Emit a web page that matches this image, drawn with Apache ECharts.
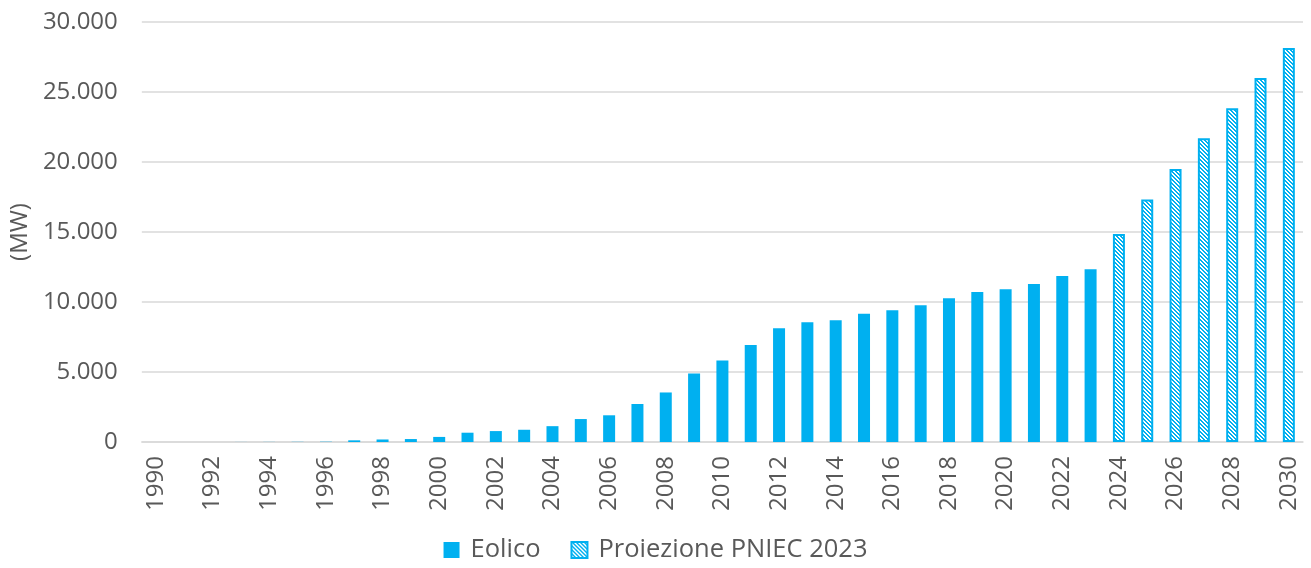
<!DOCTYPE html>
<html>
<head>
<meta charset="utf-8">
<script src="https://cdn.jsdelivr.net/npm/echarts@6/dist/echarts.min.js"></script>
<style>
html,body{margin:0;padding:0;background:#fff;}
#c{width:1311px;height:568px;}
</style>
</head>
<body>
<div id="c"></div>
<script>
const years = [];
for (let y = 1990; y <= 2030; y++) years.push(String(y));

// Installed wind capacity (MW), 1990-2023
const eolico = [2, 2, 2, 4, 7, 12, 20, 119, 180, 211, 363, 664, 780, 874, 1131, 1639, 1908, 2714, 3538, 4898, 5814, 6936, 8119, 8561, 8703, 9162, 9410, 9766, 10265, 10715, 10907, 11290, 11858, 12336];
// PNIEC 2023 projection (MW), 2024-2030
const pniec = [14860, 17330, 19500, 21690, 23840, 26000, 28140];

const seriesNames = ['Eolico', 'Proiezione PNIEC 2023'];

const eolicoData = years.map((y, i) => i < eolico.length ? eolico[i] : '-');
const pniecData = years.map((y, i) => i >= eolico.length ? pniec[i - eolico.length] : '-');

const BLUE = '#00B0F0';
function makePattern() {
  const c = document.createElement('canvas');
  c.width = 4; c.height = 4;
  const ctx = c.getContext('2d');
  ctx.fillStyle = '#ffffff';
  ctx.fillRect(0, 0, 4, 4);
  ctx.fillStyle = BLUE;
  for (let i = 0; i < 4; i++) {
    ctx.fillRect(i, i, 2, 1);
  }
  ctx.fillRect(0, 3, 1, 1);
  return c;
}
const pat = { image: makePattern(), repeat: 'repeat' };

const FONT = 'Open Sans';
const TXT = '#595959';

const chart = echarts.init(document.getElementById('c'), null, { renderer: 'canvas' });
chart.setOption({
  animation: false,
  textStyle: { fontFamily: FONT },
  grid: { left: 141, right: 8, top: 22, bottom: 126 },
  legend: {
    bottom: 0,
    left: 'center',
    itemWidth: 16,
    itemHeight: 16,
    itemGap: 30,
    textStyle: { fontFamily: FONT, fontSize: 25.5, color: TXT, padding: [0, 0, 0, 6] },
    data: [
      { name: seriesNames[0], icon: 'rect' },
      { name: seriesNames[1], icon: 'rect' }
    ]
  },
  xAxis: {
    type: 'category',
    data: years,
    axisLine: { lineStyle: { color: '#d9d9d9', width: 1.5 } },
    axisTick: { show: false },
    axisLabel: {
      interval: 1,
      rotate: 90,
      fontFamily: FONT,
      fontSize: 24,
      color: TXT,
      margin: 14
    }
  },
  yAxis: {
    type: 'value',
    min: 0,
    max: 30000,
    interval: 5000,
    name: '(MW)',
    nameLocation: 'middle',
    nameRotate: 90,
    nameGap: 106,
    nameTextStyle: { fontFamily: FONT, fontSize: 24, color: TXT },
    axisLine: { show: false },
    axisTick: { show: false },
    splitLine: { lineStyle: { color: '#d9d9d9', width: 1.5 } },
    axisLabel: {
      fontFamily: FONT,
      fontSize: 24,
      color: TXT,
      margin: 24,
      formatter: v => String(v).replace(/\B(?=(\d{3})+(?!\d))/g, '.')
    }
  },
  series: [
    {
      name: seriesNames[0],
      type: 'bar',
      data: eolicoData,
      barWidth: 12,
      barGap: '-100%',
      itemStyle: { color: BLUE }
    },
    {
      name: seriesNames[1],
      type: 'bar',
      data: pniecData,
      barWidth: 12,
      itemStyle: { color: pat, borderColor: BLUE, borderWidth: 2 }
    }
  ]
});
</script>
</body>
</html>
